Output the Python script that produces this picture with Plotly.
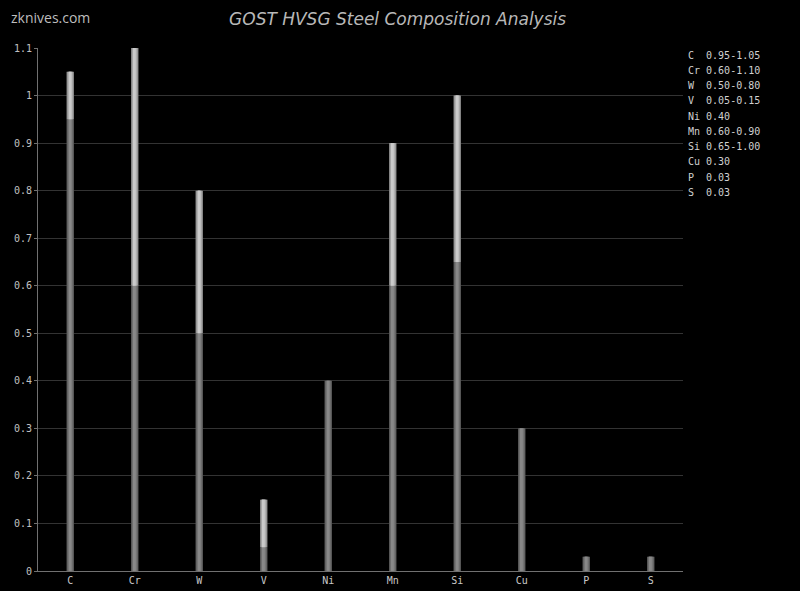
import plotly.graph_objects as go

elements = ["C", "Cr", "W", "V", "Ni", "Mn", "Si", "Cu", "P", "S"]
min_vals = [0.95, 0.60, 0.50, 0.05, 0.40, 0.60, 0.65, 0.30, 0.03, 0.03]
max_vals = [1.05, 1.10, 0.80, 0.15, 0.40, 0.90, 1.00, 0.30, 0.03, 0.03]
legend_labels = ["C  0.95-1.05", "Cr 0.60-1.10", "W  0.50-0.80", "V  0.05-0.15",
                 "Ni 0.40", "Mn 0.60-0.90", "Si 0.65-1.00", "Cu 0.30",
                 "P  0.03", "S  0.03"]
y_ticks = [0, 0.1, 0.2, 0.3, 0.4, 0.5, 0.6, 0.7, 0.8, 0.9, 1, 1.1]

fig = go.Figure()

# cylinder-like shading layers: (width, bottom colour, top colour)
layers = [
    (0.115, "#5a5a5a", "#8a8a8a"),
    (0.085, "#6e6e6e", "#a5a5a5"),
    (0.055, "#7d7d7d", "#bcbcbc"),
    (0.028, "#888888", "#cacaca"),
]
extra = [mx - mn for mn, mx in zip(min_vals, max_vals)]
for w, c_lo, c_hi in layers:
    fig.add_trace(go.Bar(x=elements, y=min_vals, width=w, marker_color=c_lo,
                         marker_line_width=0, showlegend=False, hoverinfo="skip"))
    fig.add_trace(go.Bar(x=elements, y=extra, base=min_vals, width=w, marker_color=c_hi,
                         marker_line_width=0, showlegend=False, hoverinfo="skip"))

for i, lab in enumerate(legend_labels):
    fig.add_annotation(x=1.0, y=1.0, xref="paper", yref="paper",
                       xanchor="left", yanchor="middle", xshift=3,
                       yshift=-7 - i * 15.25, showarrow=False,
                       text=lab.replace(" ", "&nbsp;"),
                       font=dict(family="DejaVu Sans Mono", size=10, color="#d0d0d0"))

fig.add_annotation(text="zknives.com", x=0, y=1, xref="paper", yref="paper",
                   xshift=-29, yshift=42, xanchor="left", yanchor="top", showarrow=False,
                   font=dict(family="Open Sans", size=14, color="#bdbdbd"))

fig.update_layout(
    width=800, height=591,
    paper_bgcolor="#000000", plot_bgcolor="#000000",
    barmode="overlay",
    margin=dict(l=38, r=117, t=48, b=20),
    title=dict(text="GOST HVSG Steel Composition Analysis", x=0.497, xanchor="center",
               y=0.967, yanchor="middle",
               font=dict(family="DejaVu Sans", size=17, color="#b8b8b8", style="italic")),
    xaxis=dict(showgrid=False, showline=True, linecolor="#707070", linewidth=1,
               ticks="", automargin=False,
               tickfont=dict(family="DejaVu Sans Mono", size=10, color="#c8c8c8"),
               fixedrange=True),
    yaxis=dict(range=[0, 1.1], tickvals=y_ticks, ticktext=[str(v) for v in y_ticks],
               showgrid=True, gridcolor="#333333", gridwidth=1, zeroline=False,
               showline=True, linecolor="#707070", linewidth=1, ticks="outside",
               ticklen=3, tickcolor="#707070", automargin=False,
               tickfont=dict(family="DejaVu Sans Mono", size=10, color="#c0c0c0")),
)

fig.write_html("out.html", config={"displayModeBar": False},
               post_script="document.body.style.margin='0';document.body.style.background='#000';")
